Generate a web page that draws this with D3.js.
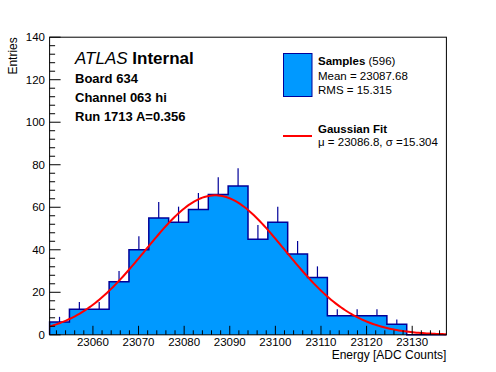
<!DOCTYPE html>
<html>
<head>
<meta charset="utf-8">
<script src="https://cdn.jsdelivr.net/npm/d3@7"></script>
<style>
  body { margin: 0; background: #fff; }
  svg text { font-family: "Liberation Sans", Arial, Helvetica, sans-serif; }
</style>
</head>
<body>
<div id="chart"></div>
<script>
var width = 496, height = 372;
var frameL = 49.6, frameR = 446.4, frameT = 37.2, frameB = 334.8;

// histogram: 20 bins from 23050.5 to 23137.5
var binLow = 23050.5, binHigh = 23137.5;
var counts = [6, 12, 12, 25, 40, 55, 53, 59, 66, 70, 45, 53, 38, 27, 9, 9, 9, 5, 0, 0];

// gaussian fit
var fitConst = 65.6, fitMean = 23086.8, fitSigma = 15.304;

var xTicks = [23060, 23070, 23080, 23090, 23100, 23110, 23120, 23130];
var yTicks = [0, 20, 40, 60, 80, 100, 120, 140];

var infoLines = ['Board 634', 'Channel 063 hi', 'Run 1713 A=0.356'];

var blue = '#0099ff', darkBlue = '#000099';

var svg = d3.select('#chart')
    .append('svg')
    .attr('width', width)
    .attr('height', height);

var xScale = d3.scaleLinear().domain([binLow, binHigh]).range([frameL, frameR]);
var yScale = d3.scaleLinear().domain([0, 140]).range([frameB, frameT]);

var binWidth = (binHigh - binLow) / counts.length;
var bins = counts.map(function(c, i) {
    return { x0: binLow + i * binWidth, x1: binLow + (i + 1) * binWidth, n: c };
});

// filled step histogram
var stepPts = [[bins[0].x0, 0]];
bins.forEach(function(b) {
    stepPts.push([b.x0, b.n]);
    stepPts.push([b.x1, b.n]);
});
stepPts.push([binHigh, 0]);

var line = d3.line()
    .x(function(d) { return xScale(d[0]); })
    .y(function(d) { return yScale(d[1]); });

svg.append('path')
    .attr('d', line(stepPts))
    .attr('fill', blue)
    .attr('stroke', darkBlue)
    .attr('stroke-width', 1.5);

// error bars (upper half, lower half is under the fill)
svg.selectAll('.err')
    .data(bins.filter(function(b) { return b.n > 0; }))
    .enter()
    .append('line')
    .attr('class', 'err')
    .attr('x1', function(d) { return xScale((d.x0 + d.x1) / 2); })
    .attr('x2', function(d) { return xScale((d.x0 + d.x1) / 2); })
    .attr('y1', function(d) { return yScale(d.n); })
    .attr('y2', function(d) { return yScale(d.n + Math.sqrt(d.n)); })
    .attr('stroke', darkBlue)
    .attr('stroke-width', 1.2);

// fit curve
var fitPts = d3.range(0, 201).map(function(i) {
    var x = binLow + (binHigh - binLow) * i / 200;
    var z = (x - fitMean) / fitSigma;
    return [x, fitConst * Math.exp(-0.5 * z * z)];
});
svg.append('path')
    .attr('d', line(fitPts))
    .attr('fill', 'none')
    .attr('stroke', '#ff0000')
    .attr('stroke-width', 2);

// frame
svg.append('rect')
    .attr('x', frameL).attr('y', frameT)
    .attr('width', frameR - frameL).attr('height', frameB - frameT)
    .attr('fill', 'none')
    .attr('stroke', '#000')
    .attr('stroke-width', 1);

// x axis ticks
var xMinor = d3.range(23052, 23137.5, 2);
svg.selectAll('.xminor').data(xMinor).enter().append('line')
    .attr('x1', function(d) { return xScale(d); })
    .attr('x2', function(d) { return xScale(d); })
    .attr('y1', frameB).attr('y2', function(d) { return d % 10 === 0 ? frameB - 9 : frameB - 4.5; })
    .attr('stroke', '#000');
svg.selectAll('.xlab').data(xTicks).enter().append('text')
    .attr('x', function(d) { return xScale(d); })
    .attr('y', 346)
    .attr('text-anchor', 'middle')
    .attr('font-size', '11.5px')
    .text(function(d) { return d; });

// y axis ticks
var yMinor = d3.range(0, 141, 4);
svg.selectAll('.yminor').data(yMinor).enter().append('line')
    .attr('y1', function(d) { return yScale(d); })
    .attr('y2', function(d) { return yScale(d); })
    .attr('x1', frameL).attr('x2', function(d) { return d % 20 === 0 ? frameL + 11 : frameL + 5.5; })
    .attr('stroke', '#000');
svg.selectAll('.ylab').data(yTicks).enter().append('text')
    .attr('x', 45)
    .attr('y', function(d) { return yScale(d) + 4; })
    .attr('text-anchor', 'end')
    .attr('font-size', '11.5px')
    .text(function(d) { return d; });

// axis titles
svg.append('text')
    .attr('x', frameR).attr('y', 358.5)
    .attr('text-anchor', 'end')
    .attr('font-size', '12px')
    .text('Energy [ADC Counts]');
svg.append('text')
    .attr('transform', 'translate(17,' + frameT + ') rotate(-90)')
    .attr('text-anchor', 'end')
    .attr('font-size', '12px')
    .text('Entries');

// ATLAS label
var atlas = svg.append('text').attr('x', 75).attr('y', 64).attr('font-size', '17px');
atlas.append('tspan').attr('font-style', 'italic').text('ATLAS');
atlas.append('tspan').attr('font-weight', 'bold').text(' Internal');

svg.selectAll('.info').data(infoLines).enter().append('text')
    .attr('x', 75)
    .attr('y', function(d, i) { return 83 + i * 19; })
    .attr('font-size', '13px')
    .attr('font-weight', 'bold')
    .text(function(d) { return d; });

// legend
svg.append('rect')
    .attr('x', 283.5).attr('y', 53.5).attr('width', 28.5).attr('height', 43)
    .attr('fill', blue).attr('stroke', darkBlue).attr('stroke-width', 1);
var s = svg.append('text').attr('x', 318).attr('y', 65).attr('font-size', '11.5px');
s.append('tspan').attr('font-weight', 'bold').text('Samples');
s.append('tspan').text(' (596)');
svg.append('text').attr('x', 318).attr('y', 79.5).attr('font-size', '11.5px').text('Mean = 23087.68');
svg.append('text').attr('x', 318).attr('y', 93.5).attr('font-size', '11.5px').text('RMS = 15.315');

svg.append('line')
    .attr('x1', 283).attr('x2', 312).attr('y1', 136).attr('y2', 136)
    .attr('stroke', '#ff0000').attr('stroke-width', 2);
svg.append('text').attr('x', 318).attr('y', 132.5).attr('font-size', '11.5px')
    .attr('font-weight', 'bold').text('Gaussian Fit');
svg.append('text').attr('x', 318).attr('y', 145.5).attr('font-size', '11.5px')
    .text('\u03bc = 23086.8, \u03c3 =15.304');
</script>
</body>
</html>
